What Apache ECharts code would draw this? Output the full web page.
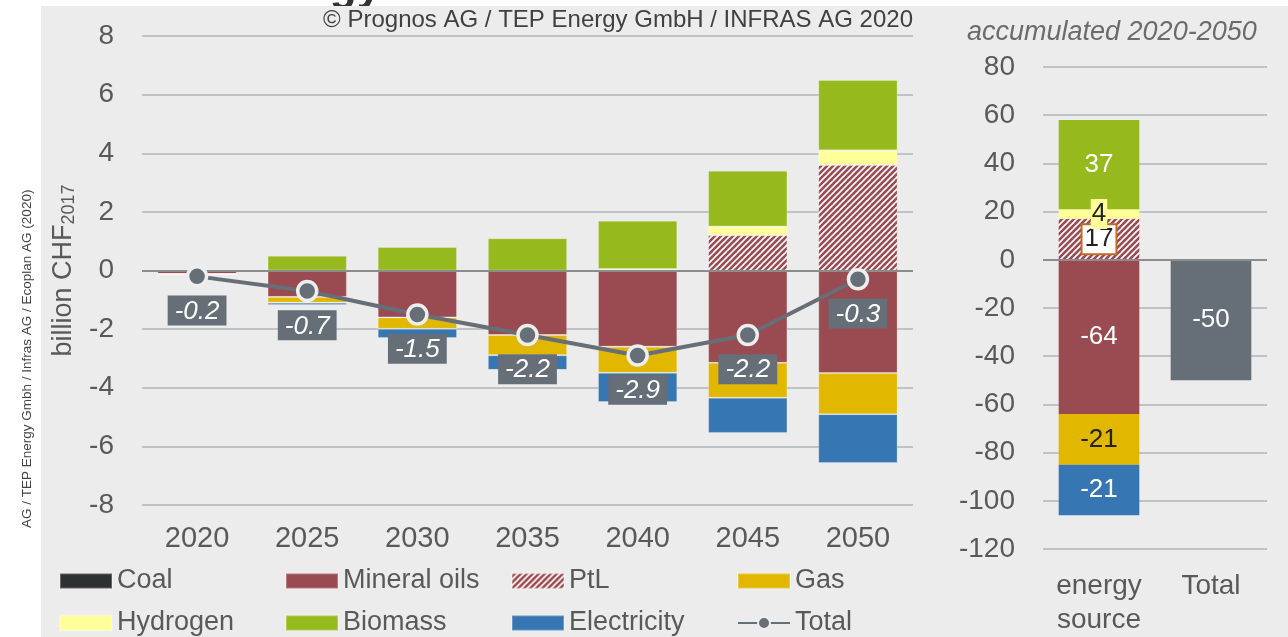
<!DOCTYPE html>
<html>
<head>
<meta charset="utf-8">
<script src="https://cdn.jsdelivr.net/npm/echarts@6/dist/echarts.min.js"></script>
<style>
  html, body { margin: 0; padding: 0; background: #fff; }
  #chart { width: 1288px; height: 637px; }
</style>
</head>
<body>
<div id="chart"></div>
<script>
  // data (billion CHF2017)
  var years = ['2020', '2025', '2030', '2035', '2040', '2045', '2050'];
  var coal = [0, 0, 0, 0, 0, 0, 0];
  var mineralOils = [-0.12, -0.9, -1.6, -2.2, -2.6, -3.15, -3.5];
  var ptl = [0, 0, 0, 0, 0, 1.2, 3.6];
  var gas = [0, -0.2, -0.39, -0.69, -0.89, -1.19, -1.4];
  var hydrogen = [0, 0, 0, 0, 0.05, 0.3, 0.5];
  var biomass = [0, 0.5, 0.8, 1.1, 1.65, 1.9, 2.4];
  var electricity = [0, -0.08, -0.31, -0.5, -1.0, -1.2, -1.67];
  var total = [-0.2, -0.7, -1.5, -2.2, -2.9, -2.2, -0.3];

  // accumulated 2020-2050
  var accCategories = ['energy\nsource', 'Total'];
  var sourceNames = ['Coal', 'Mineral oils', 'PtL', 'Gas', 'Hydrogen', 'Biomass', 'Electricity'];
  var accumulated = [0, -64, 17, -21, 4, 37, -21];
  var accTotal = -50;

  var leftTicks = { min: -8, max: 8, interval: 2 };
  var rightTicks = { min: -120, max: 80, interval: 20 };

  var FONT = 'Liberation Sans';
  var TXT = '#595959';

  // hatched fill for PtL
  var hatch = document.createElement('canvas');
  hatch.width = 6; hatch.height = 6;
  var ctx = hatch.getContext('2d');
  ctx.fillStyle = '#9a4a51';
  ctx.fillRect(0, 0, 6, 6);
  ctx.strokeStyle = '#ffffff';
  ctx.lineWidth = 1.6;
  ctx.beginPath();
  ctx.moveTo(-1, 7); ctx.lineTo(7, -1);
  ctx.moveTo(-1, 1); ctx.lineTo(1, -1);
  ctx.moveTo(5, 7); ctx.lineTo(7, 5);
  ctx.stroke();

  var colors = {
    'Coal': '#2e3134',
    'Mineral oils': '#9a4a51',
    'PtL': { image: hatch, repeat: 'repeat' },
    'Gas': '#e1b700',
    'Hydrogen': '#ffff99',
    'Biomass': '#96b91e',
    'Electricity': '#3676b2',
    'Total': '#666e78'
  };
  var leftData = [coal, mineralOils, ptl, gas, hydrogen, biomass, electricity];

  var accLabels = {
    'Coal': { show: false },
    'Mineral oils': { color: '#fff' },
    'PtL': { color: '#222', backgroundColor: '#fff', borderColor: '#c0692a', borderWidth: 2, padding: [1, 2] },
    'Gas': { color: '#222' },
    'Hydrogen': { color: '#222', backgroundColor: '#ffff99', padding: [2, 1] },
    'Biomass': { color: '#fff' },
    'Electricity': { color: '#fff' }
  };

  var series = [];
  sourceNames.forEach(function (name, i) {
    series.push({
      name: name,
      type: 'bar',
      stack: 'years',
      xAxisIndex: 0,
      yAxisIndex: 0,
      barCategoryGap: '28%',
      itemStyle: { color: colors[name], borderColor: 'rgba(255,255,255,0.25)', borderWidth: 1 },
      data: leftData[i],
      markLine: i === 0 ? {
        silent: true,
        symbol: 'none',
        label: { show: false },
        lineStyle: { color: '#8c8c8c', width: 2, type: 'solid' },
        data: [{ yAxis: 0 }]
      } : undefined
    });
  });

  series.push({
    name: 'Total',
    type: 'line',
    xAxisIndex: 0,
    yAxisIndex: 0,
    data: total,
    z: 5,
    symbol: 'circle',
    symbolSize: 19,
    lineStyle: { color: colors.Total, width: 4 },
    itemStyle: { color: colors.Total, borderColor: '#eeeeee', borderWidth: 3.5 },
    label: {
      show: true,
      position: 'bottom',
      distance: 8,
      color: '#fff',
      fontFamily: FONT,
      fontSize: 26,
      fontStyle: 'italic',
      backgroundColor: '#666e78',
      padding: [3, 7, 1, 7],
      formatter: function (p) { return p.value.toFixed(1); }
    }
  });

  sourceNames.forEach(function (name, i) {
    series.push({
      name: name,
      type: 'bar',
      stack: 'acc',
      xAxisIndex: 1,
      yAxisIndex: 1,
      barCategoryGap: '28%',
      itemStyle: { color: colors[name] },
      label: Object.assign({
        show: true,
        position: 'inside',
        fontFamily: FONT,
        fontSize: 26
      }, accLabels[name]),
      data: [accumulated[i], '-'],
      markLine: i === 0 ? {
        silent: true,
        symbol: 'none',
        label: { show: false },
        lineStyle: { color: '#8c8c8c', width: 2, type: 'solid' },
        data: [{ yAxis: 0 }]
      } : undefined
    });
  });

  series.push({
    name: 'Total',
    type: 'bar',
    stack: 'acc',
    xAxisIndex: 1,
    yAxisIndex: 1,
    barCategoryGap: '28%',
    itemStyle: { color: colors.Total },
    label: { show: true, position: 'inside', color: '#fff', fontFamily: FONT, fontSize: 26 },
    data: ['-', accTotal]
  });

  var chart = echarts.init(document.getElementById('chart'));
  var option = {
    animation: false,
    backgroundColor: '#ffffff',
    textStyle: { fontFamily: FONT },
    graphic: [
      {
        type: 'text', left: 232, top: -34, z: -2,
        style: { text: 'Energy', font: 'bold 44px Liberation Sans', fill: '#333' }
      },
      {
        type: 'rect', z: -1, silent: true,
        shape: { x: 41, y: 6, width: 1247, height: 631 },
        style: { fill: '#ececec' }
      },
      {
        type: 'text', z: 2, right: 375, top: 8,
        style: { text: '© Prognos AG / TEP Energy GmbH / INFRAS AG 2020', font: '24px Liberation Sans', fill: '#404040' }
      },
      {
        type: 'text', z: 2, left: 967, top: 19,
        style: { text: 'accumulated 2020-2050', font: 'italic 27px Liberation Sans', fill: '#6b6b6b' }
      },
      {
        type: 'text', z: 2, x: 20, y: 528, rotation: Math.PI / 2,
        style: { text: 'AG / TEP Energy Gmbh / Infras AG / Ecoplan AG (2020)', font: '13.5px Liberation Sans', fill: '#444' }
      }
    ],
    legend: {
      left: 59,
      top: 565,
      width: 900,
      padding: 0,
      itemWidth: 52,
      itemHeight: 15,
      itemGap: 10,
      textStyle: { fontFamily: FONT, fontSize: 27, color: TXT, width: 158, lineHeight: 32 },
      data: [
        { name: 'Coal', icon: 'rect' },
        { name: 'Mineral oils', icon: 'rect' },
        { name: 'PtL', icon: 'rect' },
        { name: 'Gas', icon: 'rect' },
        { name: 'Hydrogen', icon: 'rect' },
        { name: 'Biomass', icon: 'rect' },
        { name: 'Electricity', icon: 'rect' },
        { name: 'Total' }
      ]
    },
    grid: [
      { left: 142, right: 375, top: 36, bottom: 132 },
      { left: 1043, right: 21, top: 67, bottom: 86 }
    ],
    xAxis: [
      {
        type: 'category', gridIndex: 0, data: years,
        axisLine: { show: false }, axisTick: { show: false },
        axisLabel: { color: TXT, fontSize: 29, margin: 19, fontFamily: FONT }
      },
      {
        type: 'category', gridIndex: 1, data: accCategories,
        axisLine: { show: false }, axisTick: { show: false },
        axisLabel: { color: TXT, fontSize: 28, margin: 20, lineHeight: 34, fontFamily: FONT }
      }
    ],
    yAxis: [
      {
        type: 'value', gridIndex: 0,
        min: leftTicks.min, max: leftTicks.max, interval: leftTicks.interval,
        axisLabel: { color: TXT, fontSize: 28, margin: 28, fontFamily: FONT },
        splitLine: { lineStyle: { color: '#bfc3c7', width: 2 } },
        name: '{a|billion CHF}{b|2017}',
        nameLocation: 'middle',
        nameGap: 62,
        nameRotate: 90,
        nameTextStyle: {
          rich: {
            a: { fontSize: 27, color: TXT, fontFamily: FONT },
            b: { fontSize: 18, color: TXT, fontFamily: FONT, verticalAlign: 'bottom', padding: [12, 0, 0, 0] }
          }
        }
      },
      {
        type: 'value', gridIndex: 1,
        min: rightTicks.min, max: rightTicks.max, interval: rightTicks.interval,
        axisLabel: { color: TXT, fontSize: 28, margin: 28, fontFamily: FONT },
        splitLine: { lineStyle: { color: '#bfc3c7', width: 2 } }
      }
    ],
    series: series
  };
  chart.setOption(option);
</script>
</body>
</html>
